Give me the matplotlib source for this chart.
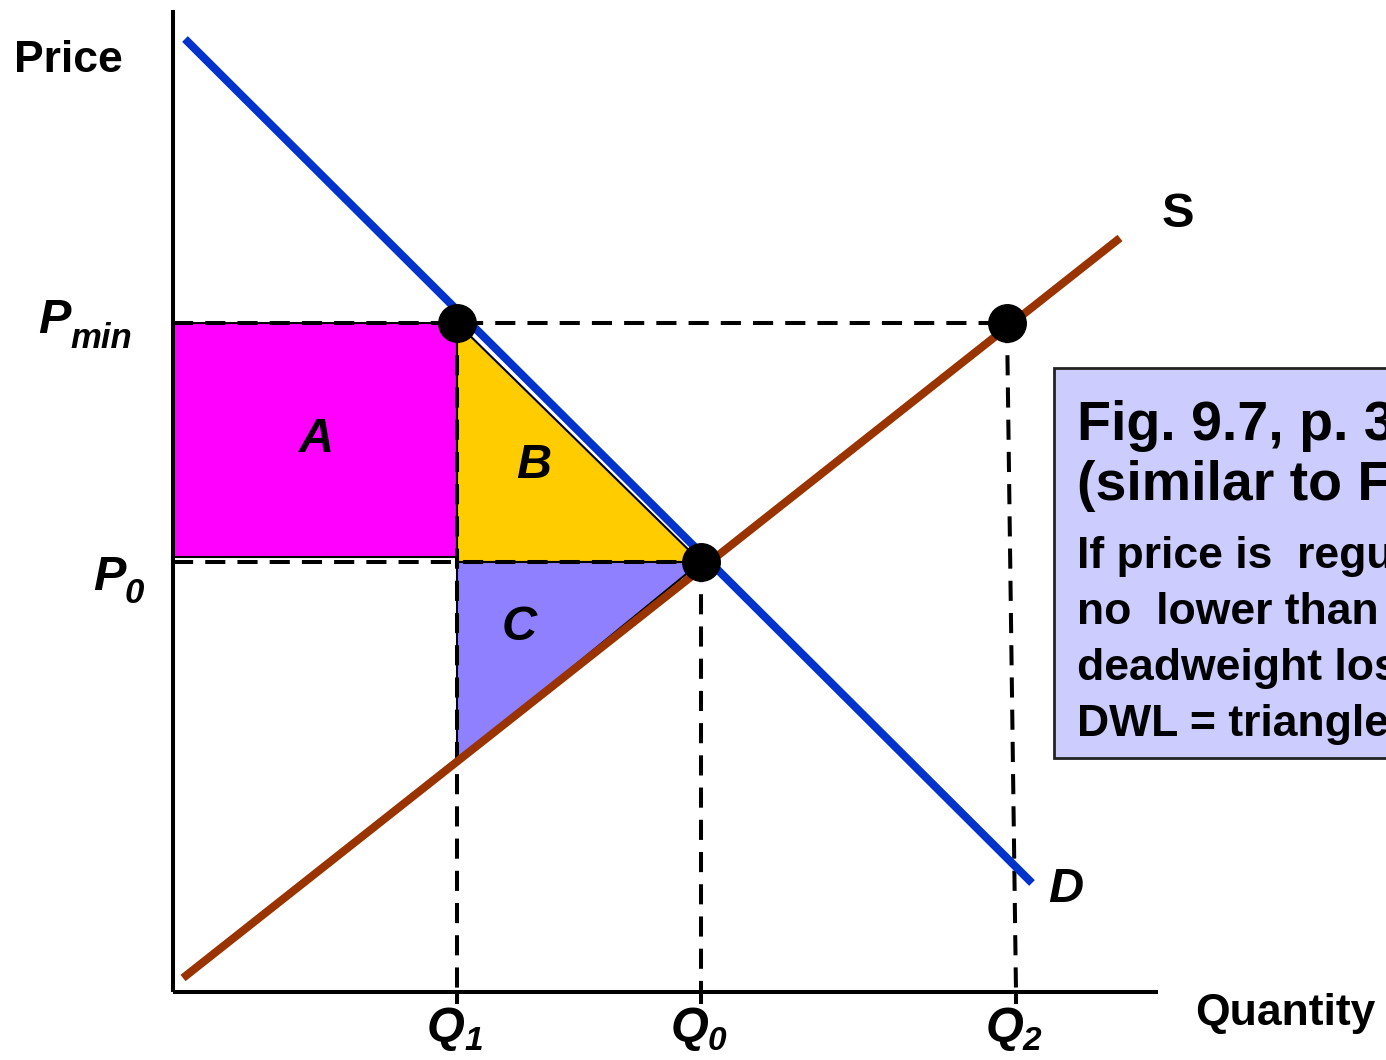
import numpy as np
import matplotlib.pyplot as plt
from matplotlib.patches import Rectangle, Polygon

plt.rcParams['font.family'] = ['Liberation Sans', 'DejaVu Sans']

# data: curves (quantity, price)
demand_q = [0.12, 8.59]
demand_p = [9.53, 1.09]
supply_q = [0.10, 9.47]
supply_p = [0.14, 7.54]

# data: key levels
q1, q0, q2 = 2.84, 5.28, 8.34
q2_foot = 8.43
p_min, p0 = 6.69, 4.30
rect_bottom = 4.35

blue = '#0033CC'
brown = '#993300'

fig = plt.figure(figsize=(13.86, 10.6), dpi=100)
ax = fig.add_axes([0, 0, 1, 1])
ax.set_xlim(-1.73, 12.13)
ax.set_ylim(-0.68, 9.92)
ax.axis('off')

# axes lines
ax.plot([0, 0], [0, 9.82], color='k', lw=2.9, solid_capstyle='butt', zorder=3)
ax.plot([0, 9.85], [0, 0], color='k', lw=2.9, solid_capstyle='butt', zorder=3)

# shaded areas
ax.add_patch(Rectangle((0, rect_bottom), q1, p_min - rect_bottom,
                       facecolor='#FF00FF', edgecolor='k', lw=1.5, zorder=1))
ax.add_patch(Polygon([[q1, p_min], [q1, p0], [q0, p0]],
                     facecolor='#FFCC00', edgecolor='k', lw=1.5, zorder=1))
p_sup_q1 = np.interp(q1, supply_q, supply_p)
ax.add_patch(Polygon([[q1, p0], [q0, p0], [q1, p_sup_q1]],
                     facecolor='#8F80FF', edgecolor='k', lw=1.5, zorder=1))

# dashed guides
dash = dict(color='k', lw=2.9, dashes=(5, 3), zorder=2)
ax.plot([0, q2], [p_min, p_min], **dash)
ax.plot([0, q0], [p0, p0], **dash)
ax.plot([q1, q1], [p_min, 0], **dash)
ax.plot([q0, q0], [p0, 0], **dash)
ax.plot([q2, q2_foot], [p_min, 0], **dash)
for q in [q1, q0, q2_foot]:
    ax.plot([q, q], [0, -0.12], color='k', lw=2.9, solid_capstyle='butt', zorder=3)

# curves
ax.plot(demand_q, demand_p, color=blue, lw=5.8, solid_capstyle='butt', zorder=4)
ax.plot(supply_q, supply_p, color=brown, lw=5.8, solid_capstyle='butt', zorder=4)

# points
ax.plot([q1, q0, q2], [p_min, p0, p_min], 'o', color='k', ms=27, zorder=5)

# labels
bi = dict(fontweight='bold', fontstyle='italic', color='k')
ax.text(-1.59, 9.20, 'Price', fontsize=32, fontweight='bold')
ax.text(10.22, -0.33, 'Quantity', fontsize=32, fontweight='bold')
ax.text(-1.35, 6.59, 'P', fontsize=35, **bi)
ax.text(-1.03, 6.44, 'min', fontsize=25, **bi)
ax.text(-0.80, 4.02, 'P', fontsize=35, **bi)
ax.text(-0.48, 3.89, '0', fontsize=25, **bi)
for qx, sub in [(q1, '1'), (q0, '0'), (q2_foot, '2')]:
    ax.text(qx - 0.30, -0.49, 'Q', fontsize=35, **bi)
    ax.text(qx + 0.07, -0.58, sub, fontsize=24, **bi)
ax.text(9.89, 7.65, 'S', fontsize=35, fontweight='bold')
ax.text(8.75, 0.90, 'D', fontsize=35, **bi)
ax.text(1.44, 5.52, 'A', fontsize=35, ha='center', va='center', **bi)
ax.text(3.61, 5.27, 'B', fontsize=35, ha='center', va='center', **bi)
ax.text(3.46, 3.65, 'C', fontsize=35, ha='center', va='center', **bi)

# note box (runs off the right edge)
ax.add_patch(Rectangle((8.81, 2.34), 4.0, 3.90, facecolor='#CCCCFF',
                       edgecolor='#222222', lw=2, zorder=1, clip_on=True))
ax.text(9.04, 5.52, 'Fig. 9.7, p. 325', fontsize=40, fontweight='bold', clip_on=True)
ax.text(9.04, 4.92, '(similar to Fig. 9.5)', fontsize=40, fontweight='bold', clip_on=True)
body = ['If price is  regulated to be',
        'no  lower than Pmin, the',
        'deadweight loss is',
        'DWL = triangles B + C']
for i, line in enumerate(body):
    ax.text(9.04, 4.24 - 0.56 * i, line, fontsize=32, fontweight='bold', clip_on=True)

fig.savefig('out.png', dpi=100)
